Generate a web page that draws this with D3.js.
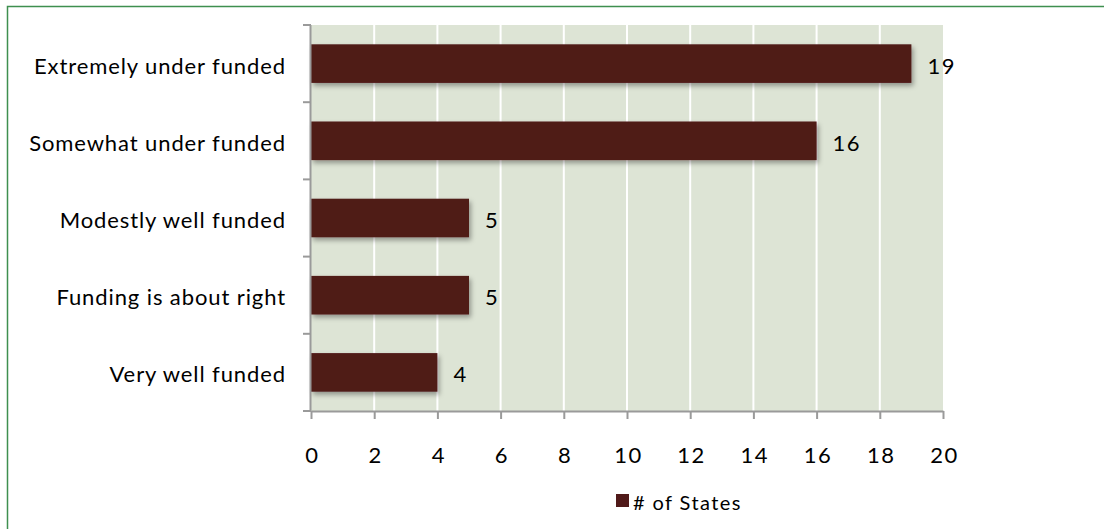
<!DOCTYPE html>
<html>
<head>
<meta charset="utf-8">
<script src="https://cdn.jsdelivr.net/npm/d3@7"></script>
<style>
  body { margin: 0; background: #fff; }
  text { font-family: Lato, "Noto Sans", sans-serif; fill: #000; }
</style>
</head>
<body>
<div id="chart"></div>
<script>
// data
var categories = ['Extremely under funded', 'Somewhat under funded', 'Modestly well funded', 'Funding is about right', 'Very well funded'];
var values = [19, 16, 5, 5, 4];
var xTicks = [0, 2, 4, 6, 8, 10, 12, 14, 16, 18, 20];
var seriesName = '# of States';

var W = 1104, H = 529;
var margin = {top: 25, left: 311, right: 161, bottom: 118};
var width = W - margin.left - margin.right,
    height = H - margin.top - margin.bottom;

var svg = d3.select('#chart').append('svg')
    .attr('width', W).attr('height', H);

// drop shadow for the bars
var defs = svg.append('defs');
var f = defs.append('filter').attr('id', 'shadow')
    .attr('x', '-5%').attr('y', '-20%').attr('width', '115%').attr('height', '160%');
f.append('feDropShadow').attr('dx', 2).attr('dy', 3).attr('stdDeviation', 2.5)
    .attr('flood-color', '#000').attr('flood-opacity', 0.35);

// outer frame
svg.append('rect')
    .attr('x', 7.5).attr('y', 6.5).attr('width', W + 10).attr('height', H + 10)
    .attr('fill', 'none').attr('stroke', '#3f8f4f').attr('stroke-width', 1.5);

var g = svg.append('g').attr('transform', 'translate(' + margin.left + ',' + margin.top + ')');

var x = d3.scaleLinear().domain([0, 20]).range([0, width]);
var y = d3.scaleBand().domain(categories).range([0, height]).paddingInner(0.5).paddingOuter(0.25);

// plot background
g.append('rect').attr('width', width).attr('height', height).attr('fill', '#dde4d5');

// white gridlines
g.selectAll('.grid').data(xTicks.slice(1, -1)).enter().append('line')
    .attr('x1', function(d) { return x(d); }).attr('x2', function(d) { return x(d); })
    .attr('y1', 0).attr('y2', height)
    .attr('stroke', '#fff').attr('stroke-width', 2);

// bars
g.selectAll('.bar').data(values).enter().append('rect')
    .attr('x', 0)
    .attr('y', function(d, i) { return y(categories[i]); })
    .attr('width', function(d) { return x(d); })
    .attr('height', y.bandwidth())
    .attr('fill', '#501a19')
    .attr('filter', 'url(#shadow)');

// value labels
g.selectAll('.val').data(values).enter().append('text')
    .attr('x', function(d) { return x(d) + 16; })
    .attr('y', function(d, i) { return y(categories[i]) + y.bandwidth() / 2; })
    .attr('dy', '0.45em')
    .style('font-size', '22px').style('letter-spacing', '1.5px')
    .text(function(d) { return d; });

// y axis (category boundaries as ticks)
var axisColor = '#9a9a9a';
g.append('line').attr('x1', -0.5).attr('x2', -0.5).attr('y1', 0).attr('y2', height)
    .attr('stroke', axisColor).attr('stroke-width', 2);
var bounds = d3.range(categories.length + 1).map(function(i) { return i * height / categories.length; });
g.selectAll('.ytick').data(bounds).enter().append('line')
    .attr('x1', -8).attr('x2', 0)
    .attr('y1', function(d) { return d; }).attr('y2', function(d) { return d; })
    .attr('stroke', axisColor).attr('stroke-width', 2);

g.selectAll('.ylab').data(categories).enter().append('text')
    .attr('x', -25)
    .attr('y', function(d) { return y(d) + y.bandwidth() / 2; })
    .attr('dy', '0.45em')
    .attr('text-anchor', 'end')
    .style('font-size', '22px').style('letter-spacing', '0.9px')
    .text(function(d) { return d; });

// x axis
var xAxis = g.append('g').attr('transform', 'translate(0,' + height + ')')
    .call(d3.axisBottom(x).tickValues(xTicks).tickSize(8).tickPadding(28).tickSizeOuter(0));
xAxis.select('.domain').attr('stroke', axisColor).attr('stroke-width', 2);
xAxis.selectAll('.tick line').attr('stroke', axisColor).attr('stroke-width', 2);
xAxis.selectAll('.tick text').style('font-size', '22px').style('letter-spacing', '1.5px')
    .attr('dx', '0.04em')
    .style('font-family', 'Lato, "Noto Sans", sans-serif').attr('fill', '#000');

// legend
var leg = svg.append('g').attr('transform', 'translate(616,494)');
leg.append('rect').attr('width', 13).attr('height', 13).attr('fill', '#501a19');
leg.append('text').attr('x', 17).attr('y', 15.5)
    .style('font-size', '20px').style('letter-spacing', '1.4px').text(seriesName);
</script>
</body>
</html>
